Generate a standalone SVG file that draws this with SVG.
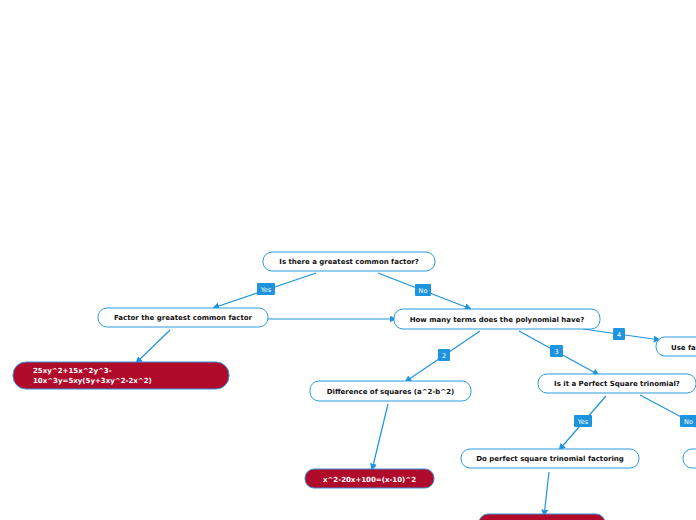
<svg xmlns="http://www.w3.org/2000/svg" width="696" height="520" viewBox="0 0 696 520">
<defs>
<marker id="arr" viewBox="0 0 10 10" refX="9" refY="5" markerWidth="7" markerHeight="7" markerUnits="userSpaceOnUse" orient="auto">
<path d="M0,0 L10,5 L0,10 z" fill="#1e93de"/>
</marker>
</defs>
<style>
.n rect{fill:#fff;stroke:#2b9be0;stroke-width:1}
.r rect{fill:#b00b2b;stroke:#3a8fd8;stroke-width:1}
.n text{font-family:"DejaVu Sans",Verdana,sans-serif;font-weight:bold;font-size:7px;fill:#111;text-anchor:middle}
.r text{font-family:"DejaVu Sans",Verdana,sans-serif;font-weight:bold;font-size:7px;fill:#fff}
#connectors line{stroke:#1e93de;stroke-width:1.2;marker-end:url(#arr)}
.lb rect{fill:#1e93de}
.lb text{font-family:"DejaVu Sans",Verdana,sans-serif;font-size:6.5px;fill:#fff;text-anchor:middle}
</style>
<rect width="696" height="520" fill="#fff"/>
<g id="connectors">
<line x1="316" y1="273" x2="213" y2="308"/>
<line x1="378" y1="273" x2="471" y2="309"/>
<line x1="268" y1="319" x2="396" y2="319"/>
<line x1="170" y1="330" x2="136" y2="363"/>
<line x1="480" y1="331" x2="405" y2="382"/>
<line x1="519" y1="331" x2="599" y2="375"/>
<line x1="583" y1="329" x2="660" y2="340"/>
<line x1="606" y1="396" x2="559" y2="450"/>
<line x1="640" y1="395" x2="700" y2="427"/>
<line x1="388" y1="404" x2="372" y2="470"/>
<line x1="549" y1="472" x2="544" y2="516"/>
<g class="lb">
<rect x="257" y="283" width="18" height="12" rx="1"/><text x="266" y="291.5">Yes</text>
<rect x="415" y="284" width="16" height="12" rx="1"/><text x="423" y="292.5">No</text>
<rect x="438" y="349" width="12" height="12" rx="1"/><text x="444" y="357.5">2</text>
<rect x="550" y="345" width="13" height="12" rx="1"/><text x="556.5" y="353.5">3</text>
<rect x="613" y="328" width="12" height="12" rx="1"/><text x="619" y="336.5">4</text>
<rect x="574" y="415" width="18" height="12" rx="1"/><text x="583" y="423.5">Yes</text>
<rect x="680" y="415" width="17" height="12" rx="1"/><text x="688.5" y="423.5">No</text>
</g>
</g>
<g id="n1" class="n"><rect x="263" y="252" width="172" height="19" rx="9"/><text x="349" y="264">Is there a greatest common factor?</text></g>
<g id="n2" class="n"><rect x="98" y="308" width="170" height="19" rx="9"/><text x="183" y="320">Factor the greatest common factor</text></g>
<g id="n3" class="r"><rect x="13" y="362" width="216" height="27" rx="13"/><text x="33" y="373">25xy^2+15x^2y^3-</text><text x="33" y="382.5">10x^3y=5xy(5y+3xy^2-2x^2)</text></g>
<g id="n4" class="n"><rect x="394" y="309" width="206" height="20" rx="9"/><text x="497" y="321.5">How many terms does the polynomial have?</text></g>
<g id="n5" class="n"><rect x="656" y="337" width="80" height="19" rx="9"/><text x="671" y="349.5" style="text-anchor:start">Use fa</text></g>
<g id="n6" class="n"><rect x="310" y="381" width="161" height="20" rx="9"/><text x="390.5" y="393.5">Difference of squares (a^2-b^2)</text></g>
<g id="n7" class="n"><rect x="538" y="374" width="158" height="19" rx="9"/><text x="617" y="386">Is it a Perfect Square trinomial?</text></g>
<g id="n8" class="r"><rect x="305" y="469" width="129" height="19" rx="9"/><text x="369.5" y="481.5" style="text-anchor:middle">x^2-20x+100=(x-10)^2</text></g>
<g id="n9" class="n"><rect x="461" y="449" width="178" height="19" rx="9"/><text x="550" y="461">Do perfect square trinomial factoring</text></g>
<g id="n10" class="r"><rect x="479" y="514" width="126" height="20" rx="9"/></g>
<g id="n11" class="n"><rect x="683" y="449" width="60" height="19" rx="9"/></g>
</svg>
